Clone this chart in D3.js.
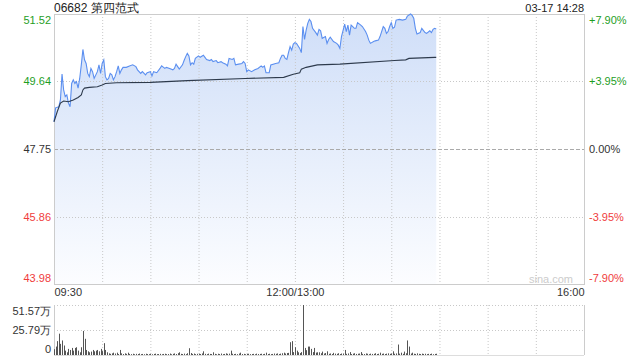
<!DOCTYPE html>
<html>
<head>
<meta charset="utf-8">
<script src="https://d3js.org/d3.v7.min.js"></script>
<style>
  body { margin: 0; background: #fff; }
  svg text { font-family: "Liberation Sans", Arial, sans-serif; }
</style>
</head>
<body>
<svg width="640" height="360" id="chart"></svg>
<script>
// stock info
var title = "06682 第四范式";
var stamp = "03-17 14:28";
var prevClose = 47.75;

// y ticks
var priceTicks = [51.52, 49.64, 47.75, 45.86, 43.98];
var pctLabels = ["+7.90%", "+3.95%", "0.00%", "-3.95%", "-7.90%"];
var volTicks = [51.57, 25.79, 0];
var volLabels = ["51.57万", "25.79万", "0"];
var timeTicks = ["09:30", "12:00", "16:00"];
var timeLabels = ["09:30", "12:00/13:00", "16:00"];

// price
var priceTimes = ["09:30","09:31","09:33","09:34","09:35","09:36","09:37","09:38","09:39","09:40",
  "09:41","09:42","09:43","09:44","09:45","09:46","09:47","09:48","09:49","09:50",
  "09:51","09:52","09:53","09:54","09:55","09:57","09:58","09:59","10:00","10:01",
  "10:02","10:03","10:04","10:05","10:06","10:07","10:08","10:09","10:10","10:11",
  "10:12","10:13","10:15","10:17","10:19","10:21","10:22","10:24","10:25","10:27",
  "10:28","10:30","10:31","10:32","10:34","10:36","10:37","10:39","10:40","10:42",
  "10:44","10:45","10:46","10:47","10:48","10:50","10:51","10:52","10:53","10:54",
  "10:55","10:56","10:57","10:58","11:00","11:01","11:03","11:04","11:05","11:07",
  "11:08","11:09","11:11","11:12","11:14","11:15","11:17","11:18","11:19","11:21",
  "11:22","11:23","11:25","11:27","11:28","11:29","11:30","11:31","11:33","11:35",
  "11:37","11:39","11:40","11:41","11:42","11:44","11:45","11:48","11:50","11:51",
  "11:52","11:53","11:54","11:55","11:56","11:57","11:58","11:59","12:00","13:01",
  "13:03","13:04","13:05","13:06","13:07","13:08","13:09","13:10","13:11","13:13",
  "13:14","13:15","13:16","13:17","13:19","13:20","13:21","13:22","13:24","13:26",
  "13:27","13:28","13:29","13:31","13:32","13:33","13:34","13:35","13:36","13:37",
  "13:38","13:39","13:41","13:42","13:44","13:45","13:46","13:47","13:49","13:50",
  "13:52","13:53","13:54","13:55","13:56","13:57","13:58","13:59","14:00","14:01",
  "14:02","14:03","14:05","14:07","14:09","14:10","14:12","14:13","14:14","14:15",
  "14:16","14:18","14:19","14:21","14:22","14:24","14:25","14:26","14:27","14:28"];
var priceValues = [48.51,48.90,48.93,49.12,49.84,49.40,49.21,49.26,49.03,48.93,
  49.58,49.68,49.58,49.63,49.45,49.72,50.10,50.53,50.24,50.14,
  49.86,49.77,50.00,49.91,49.72,49.91,50.10,49.86,50.14,50.24,
  49.77,49.68,49.72,49.86,49.82,49.68,49.77,49.91,50.07,49.86,
  49.96,50.03,50.03,50.07,50.10,50.05,49.96,49.86,49.91,49.82,
  49.88,49.91,49.79,49.91,49.88,50.00,50.07,50.00,50.03,50.00,
  49.96,50.00,50.12,50.05,49.98,50.10,50.22,50.33,50.42,50.35,
  50.10,50.16,50.12,50.28,50.35,50.31,50.37,50.31,50.25,50.22,
  50.25,50.19,50.22,50.16,50.19,50.16,50.12,50.07,50.28,50.25,
  50.28,50.10,50.12,50.14,50.19,50.14,49.91,49.96,49.91,49.96,
  50.00,50.07,50.03,50.07,49.88,49.88,50.10,50.14,50.16,50.28,
  50.37,50.37,50.28,50.25,50.44,50.61,50.51,50.68,50.72,50.70,
  50.56,50.44,51.17,50.81,51.07,51.26,51.37,51.31,51.12,51.00,
  50.93,51.09,51.05,50.84,50.89,50.70,50.81,50.87,50.75,50.70,
  50.65,50.56,50.89,51.24,51.03,51.21,50.93,51.21,51.17,51.12,
  51.12,51.28,51.21,51.17,51.03,50.93,50.79,50.70,50.75,50.77,
  50.79,50.89,51.03,51.17,51.12,50.98,51.03,51.17,51.28,51.12,
  51.15,51.35,51.37,51.35,51.37,51.46,51.52,51.48,51.40,51.12,
  50.96,51.00,51.12,51.00,50.98,51.05,51.00,51.09,51.12,51.10];

// average price
var avgTimes = ["09:30","09:32","09:34","09:36","09:39","09:42","09:45","09:47","09:48","09:49",
  "09:52","09:57","10:00","10:02","10:09","10:30","10:53","11:29","11:53","11:59",
  "13:03","13:04","13:07","13:14","13:28","14:02","14:09","14:11","14:27","14:28"];
var avgValues = [48.51,48.79,49.03,49.09,49.07,49.12,49.19,49.26,49.40,49.45,
  49.47,49.49,49.54,49.58,49.60,49.61,49.66,49.72,49.75,49.84,
  49.88,49.98,50.03,50.10,50.12,50.22,50.24,50.28,50.31,50.31];

// volume per minute from 09:30 (万股)
var volStart = "09:30";
var volValues = [6,8.7,14.3,22,11.5,15,9.8,4.5,2.8,6.3,
  5.2,7.3,4.5,7.3,8,4.5,2.8,8,24.8,16.7,
  5.2,3.8,2.8,3.5,5.2,3.8,4.5,5.2,3.8,6.3,
  4,12.2,5.2,2.8,1.7,1.2,1.7,2.4,1.5,2.4,
  1,5.2,1.7,1,1.7,1.2,2.4,1.1,0.9,1.3,
  0.8,1.2,1,1.5,0.9,1.1,0.8,1.3,1,0.9,
  1.2,0.8,1.1,1.4,0.9,1,1.2,0.8,1.1,1.3,
  0.9,1,1.5,0.8,1.2,1.6,1,1.9,2.8,1.2,
  1,1.4,0.9,1.8,7,2,1.1,1.5,0.9,1.2,
  1.3,1,1.6,3.8,1.2,0.9,1.4,1.1,1,2.8,
  1.2,0.8,1.3,1,1.5,0.9,1.1,1.7,1.2,1.4,
  4.5,1.3,1,1.2,0.9,1.5,2.4,1,1.2,0.8,
  1.1,1.3,0.9,1,1.2,0.8,1.4,1,1.1,1.3,
  0.9,1.2,2.4,1,1.3,0.9,1.1,1.5,1.2,1.6,
  1,1.4,1.8,2.4,1.5,2,2.2,13.2,14.3,3,
  8,4.5,2.8,2,3,51.57,7.3,5,8.7,8.7,
  6.3,3,7.3,2.5,2.8,2.8,1.8,3.5,1.5,2,
  3.8,1.2,1.6,1,2.2,1.4,1.2,1.8,1,1.5,
  1.3,5.2,1.2,1.6,3,1,1.4,1.8,1.1,1.3,
  1.5,3,1.2,1,1.6,1.3,0.9,1.4,1.1,1.2,
  1.8,1,1.3,2.4,1.2,1.5,1,1.4,1.7,1.2,
  1.5,3.8,1.3,1.6,10.8,1.4,2.4,1.2,3.5,1.8,
  15,8.7,1.5,2.4,1.3,1.1,1.7,1.2,1,1.4,
  1.1,1.3,0.9,1.2,1,1.4,0.8,1.1,1.3];

// session minute: 09:30-12:00 then 13:00-16:00
function toMin(t) {
  var p = t.split(":"), m = +p[0] * 60 + +p[1];
  return m <= 720 ? m - 570 : m - 780 + 150;
}

var upColor = "#1f9e1f", downColor = "#f03c3c", flatColor = "#333";
function tickColor(v) { return v > prevClose + 1e-9 ? upColor : (v < prevClose - 1e-9 ? downColor : flatColor); }

var svg = d3.select("#chart");
var pLeft = 54, pRight = 584, pTop = 14, pBottom = 284;
var vTop = 305, vBottom = 355;

var x = d3.scaleLinear().domain([0, 330]).range([pLeft, pRight]);
var y = d3.scaleLinear().domain([43.98, 51.52]).range([pBottom, pTop]);
var yv = d3.scaleLinear().domain([0, 51.57]).range([vBottom, vTop]);

var price = priceTimes.map(function(t, i) { return { m: toMin(t), v: priceValues[i] }; });
var avg = avgTimes.map(function(t, i) { return { m: toMin(t), v: avgValues[i] }; });
var v0 = toMin(volStart);
var vol = volValues.map(function(v, i) { return { m: v0 + i, v: v }; });

// gradient
var defs = svg.append("defs");
var grad = defs.append("linearGradient").attr("id", "fillGrad")
  .attr("gradientUnits", "userSpaceOnUse")
  .attr("x1", 0).attr("y1", pTop).attr("x2", 0).attr("y2", pBottom);
grad.append("stop").attr("offset", "0%").attr("stop-color", "#cfdef8");
grad.append("stop").attr("offset", "100%").attr("stop-color", "#fcfdff");

// area
svg.append("path")
  .attr("d", d3.area().x(function(d) { return x(d.m); }).y0(pBottom).y1(function(d) { return y(d.v); })(price))
  .attr("fill", "url(#fillGrad)");

// grid
var grid = svg.append("g");
d3.range(1, 11).forEach(function(i) {
  grid.append("line").attr("x1", x(i * 30) + 0.5).attr("x2", x(i * 30) + 0.5)
    .attr("y1", pTop).attr("y2", pBottom)
    .attr("stroke", "#c8c8c8").attr("stroke-dasharray", "1,2");
  grid.append("line").attr("x1", x(i * 30) + 0.5).attr("x2", x(i * 30) + 0.5)
    .attr("y1", vTop).attr("y2", vBottom)
    .attr("stroke", "#c8c8c8").attr("stroke-dasharray", "1,2");
});
priceTicks.slice(1, 4).forEach(function(v) {
  grid.append("line").attr("x1", pLeft).attr("x2", pRight)
    .attr("y1", Math.round(y(v)) + 0.5).attr("y2", Math.round(y(v)) + 0.5)
    .attr("stroke", v === prevClose ? "#aaa" : "#c8c8c8")
    .attr("stroke-dasharray", v === prevClose ? "4,2" : "1,2");
});
grid.append("rect").attr("x", pLeft + 0.5).attr("y", pTop + 0.5)
  .attr("width", pRight - pLeft).attr("height", pBottom - pTop)
  .attr("fill", "none").attr("stroke", "#ccc");
[vTop, yv(25.79)].forEach(function(yy) {
  grid.append("line").attr("x1", pLeft).attr("x2", pRight)
    .attr("y1", Math.round(yy) + 0.5).attr("y2", Math.round(yy) + 0.5)
    .attr("stroke", "#c8c8c8").attr("stroke-dasharray", "1,2");
});
grid.append("line").attr("x1", pLeft + 0.5).attr("x2", pLeft + 0.5).attr("y1", vTop).attr("y2", vBottom).attr("stroke", "#ccc");
grid.append("line").attr("x1", pRight + 0.5).attr("x2", pRight + 0.5).attr("y1", vTop).attr("y2", vBottom).attr("stroke", "#ccc");
grid.append("line").attr("x1", pLeft).attr("x2", pRight).attr("y1", vBottom + 0.5).attr("y2", vBottom + 0.5).attr("stroke", "#ddd");

// lines
svg.append("path")
  .attr("d", d3.line().x(function(d) { return x(d.m); }).y(function(d) { return y(d.v); })(price))
  .attr("fill", "none").attr("stroke", "#5b8ff0").attr("stroke-width", 1.1);
svg.append("path")
  .attr("d", d3.line().x(function(d) { return x(d.m); }).y(function(d) { return y(d.v); })(avg))
  .attr("fill", "none").attr("stroke", "#2d3a4c").attr("stroke-width", 1.1);

// volume bars
svg.append("g").selectAll("rect").data(vol).enter().append("rect")
  .attr("x", function(d) { return Math.round(x(d.m)); })
  .attr("width", 1)
  .attr("y", function(d) { return yv(d.v); })
  .attr("height", function(d) { return vBottom - yv(d.v); })
  .attr("fill", "#555");

// axes
function offsetDy(n) {
  return function(d, i) { return i === 0 ? "0.9em" : (i === n - 1 ? "-0.25em" : "0.32em"); };
}
var yAxisL = svg.append("g").attr("transform", "translate(" + pLeft + ",0)")
  .call(d3.axisLeft(y).tickValues(priceTicks).tickSize(0).tickPadding(3).tickFormat(d3.format(".2f")));
yAxisL.select(".domain").remove();
yAxisL.selectAll("text").attr("font-size", 11).attr("font-family", null)
  .attr("fill", function(d) { return tickColor(d); })
  .attr("dy", offsetDy(priceTicks.length));

var yAxisR = svg.append("g").attr("transform", "translate(" + pRight + ",0)")
  .call(d3.axisRight(y).tickValues(priceTicks).tickSize(0).tickPadding(5)
    .tickFormat(function(d, i) { return pctLabels[i]; }));
yAxisR.select(".domain").remove();
yAxisR.selectAll("text").attr("font-size", 11).attr("font-family", null)
  .attr("fill", function(d) { return tickColor(d); })
  .attr("dy", offsetDy(priceTicks.length));

var xAxis = svg.append("g").attr("transform", "translate(0," + pBottom + ")")
  .call(d3.axisBottom(x).tickValues(timeTicks.map(toMin)).tickSize(0).tickPadding(4)
    .tickFormat(function(d, i) { return timeLabels[i]; }));
xAxis.select(".domain").remove();
xAxis.selectAll("text").attr("font-size", 11).attr("font-family", null).attr("fill", "#333")
  .attr("text-anchor", function(d, i) { return i === 0 ? "start" : (i === 2 ? "end" : "middle"); });

var vAxis = svg.append("g").attr("transform", "translate(" + pLeft + ",0)")
  .call(d3.axisLeft(yv).tickValues(volTicks).tickSize(0).tickPadding(3)
    .tickFormat(function(d, i) { return volLabels[i]; }));
vAxis.select(".domain").remove();
vAxis.selectAll("text").attr("font-size", 11).attr("font-family", null).attr("fill", "#333")
  .attr("dy", function(d, i) { return i === 0 ? "0.9em" : (i === 2 ? "-0.2em" : "0.32em"); });

// header
svg.append("text").attr("x", pLeft).attr("y", 12).attr("font-size", 12).attr("fill", "#222").text(title);
svg.append("text").attr("x", pRight).attr("y", 12).attr("font-size", 11).attr("fill", "#222")
  .attr("text-anchor", "end").text(stamp);
svg.append("text").attr("x", pRight - 11).attr("y", 283).attr("font-size", 11).attr("fill", "#ccc")
  .attr("text-anchor", "end").text("sina.com");
</script>
</body>
</html>
